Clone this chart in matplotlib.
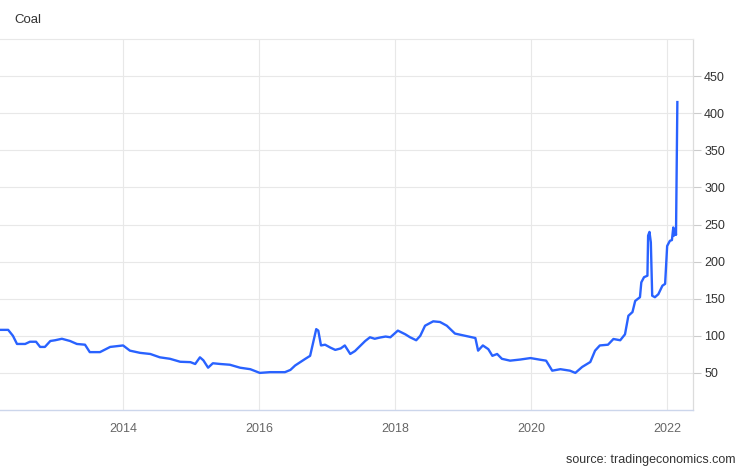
import numpy as np
import matplotlib
matplotlib.use("Agg")
import matplotlib.pyplot as plt

plt.rcParams["font.family"] = ["Liberation Sans", "DejaVu Sans"]

# weekly-ish coal price readings (decimal year, USD/t)
years = [2012.19, 2012.31, 2012.38, 2012.44, 2012.56, 2012.63, 2012.72, 2012.78,
         2012.85, 2012.93, 2013.00, 2013.10, 2013.22, 2013.32, 2013.44, 2013.51,
         2013.66, 2013.81, 2014.00, 2014.10, 2014.25, 2014.40, 2014.54, 2014.69,
         2014.84, 2014.99, 2015.06, 2015.13, 2015.18, 2015.25, 2015.32, 2015.43,
         2015.57, 2015.72, 2015.87, 2016.01, 2016.16, 2016.38, 2016.46, 2016.53,
         2016.68, 2016.75, 2016.79, 2016.84, 2016.87, 2016.91, 2016.97, 2017.05,
         2017.12, 2017.20, 2017.26, 2017.34, 2017.41, 2017.56, 2017.63, 2017.70,
         2017.78, 2017.86, 2017.93, 2018.04, 2018.15, 2018.22, 2018.31, 2018.37,
         2018.44, 2018.56, 2018.66, 2018.76, 2018.88, 2019.03, 2019.18, 2019.22,
         2019.29, 2019.37, 2019.43, 2019.50, 2019.57, 2019.69, 2019.84, 2019.99,
         2020.13, 2020.22, 2020.31, 2020.43, 2020.57, 2020.65, 2020.75, 2020.87,
         2020.94, 2021.01, 2021.13, 2021.21, 2021.31, 2021.38, 2021.43, 2021.49,
         2021.53, 2021.60, 2021.62, 2021.66, 2021.71, 2021.72, 2021.74, 2021.76,
         2021.78, 2021.82, 2021.87, 2021.93, 2021.97, 2022.00, 2022.04, 2022.07,
         2022.09, 2022.10, 2022.12, 2022.13, 2022.15]
prices = [108, 108, 100, 89, 89, 92, 92, 85,
          85, 93, 94, 96, 93, 89, 88, 78,
          78, 85, 87, 80, 77, 75.5, 71, 69,
          65, 64.5, 62, 71, 67, 57, 63, 62,
          61, 57, 55, 50, 51, 51, 54, 60,
          69, 73, 89, 109, 107, 87, 88, 84,
          81, 83, 87, 75.5, 79.5, 93, 98, 96,
          97.7, 99, 98, 107, 102, 98, 94, 100,
          113.6, 119.5, 118.6, 113.6, 103, 100, 97, 80,
          87, 82, 73, 75.5, 69, 66.5, 68, 70,
          67.8, 66.5, 53, 55, 53, 50, 58, 64.7,
          80, 87, 88, 95.7, 94, 102, 127, 132,
          147, 152, 172, 179, 181, 235, 240, 226,
          154, 152, 156, 167.5, 170, 221, 228, 229,
          246, 235, 244, 236, 415]

year_ticks = [2014, 2016, 2018, 2020, 2022]
value_ticks = [50, 100, 150, 200, 250, 300, 350, 400, 450]

fig = plt.figure(figsize=(7.46, 4.68), dpi=100)
ax = fig.add_axes([0.0, 58 / 468, 693 / 746, (410 - 39) / 468])

ax.plot(years, prices, color="#2962ff", linewidth=1.7, solid_joinstyle="round")

ax.set_xlim(2012.19, 2022.38)
ax.set_ylim(0, 500)

ax.set_xticks(year_ticks)
ax.set_xticklabels([str(y) for y in year_ticks])
ax.set_yticks(value_ticks)

ax.yaxis.tick_right()
ax.tick_params(axis="y", length=6, width=0.8, color="#cccccc",
               labelsize=9, labelcolor="#333333", pad=2)
ax.tick_params(axis="x", length=0, labelsize=9, labelcolor="#666666", pad=9)

ax.grid(True, color="#e8e8e8", linewidth=0.8)
ax.set_axisbelow(True)

ax.spines["left"].set_visible(False)
ax.spines["top"].set_color("#e8e8e8")
ax.spines["top"].set_linewidth(0.8)
ax.spines["right"].set_color("#dcdcdc")
ax.spines["right"].set_linewidth(0.9)
ax.spines["bottom"].set_color("#ccd6eb")
ax.spines["bottom"].set_linewidth(1.0)

fig.text(14 / 746, 1 - 20 / 468, "Coal", fontsize=9.5, color="#333333",
         ha="left", va="center")
fig.text(736 / 746, 1 - 460 / 468, "source: tradingeconomics.com", fontsize=9,
         color="#333333", ha="right", va="center")

fig.savefig("out.png", dpi=100)
